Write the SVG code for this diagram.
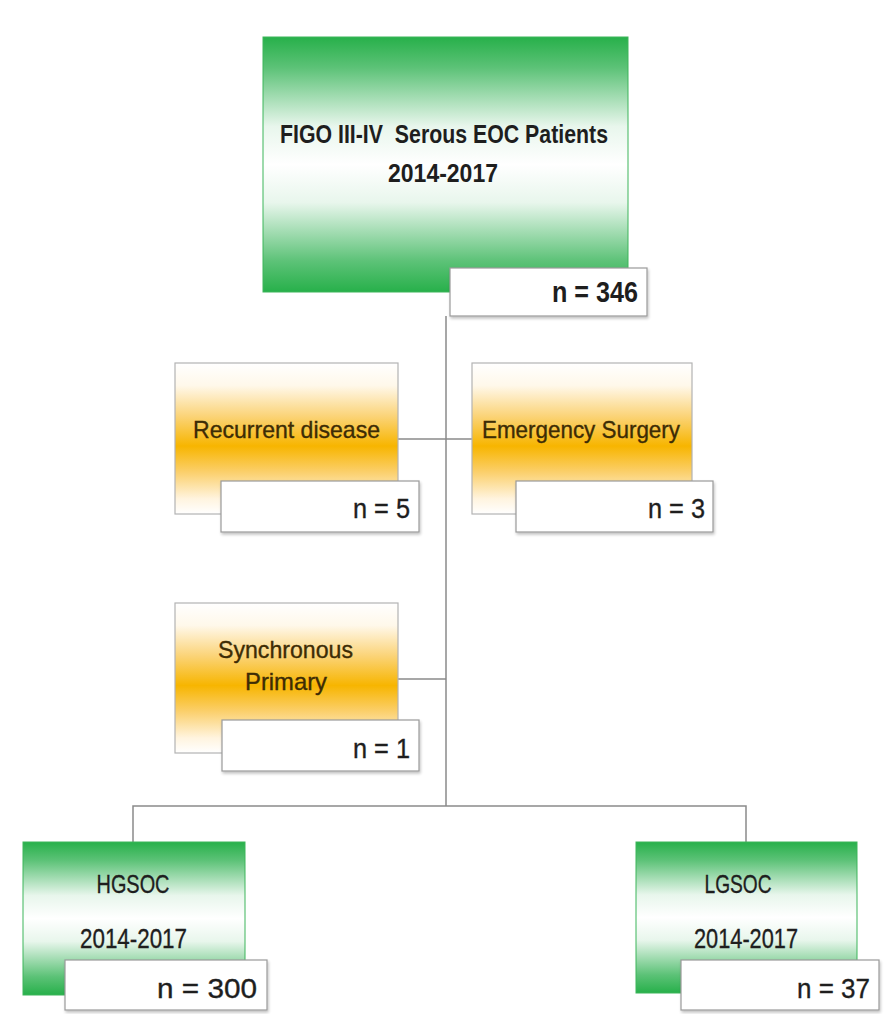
<svg xmlns="http://www.w3.org/2000/svg" width="884" height="1014" viewBox="0 0 884 1014">
<defs>
<linearGradient id="gGreen" x1="0" y1="0" x2="0" y2="1">
<stop offset="0" stop-color="#27b04a"/>
<stop offset="0.12" stop-color="#5cc277"/>
<stop offset="0.35" stop-color="#e8f6ec"/>
<stop offset="0.5" stop-color="#ffffff"/>
<stop offset="0.65" stop-color="#e8f6ec"/>
<stop offset="0.88" stop-color="#5cc277"/>
<stop offset="1" stop-color="#27b04a"/>
</linearGradient>
<linearGradient id="gOrange" x1="0" y1="0" x2="0" y2="1">
<stop offset="0" stop-color="#ffffff"/>
<stop offset="0.15" stop-color="#fff8ea"/>
<stop offset="0.35" stop-color="#fbd479"/>
<stop offset="0.55" stop-color="#f7b500"/>
<stop offset="0.72" stop-color="#fbcf6a"/>
<stop offset="0.9" stop-color="#fff4df"/>
<stop offset="1" stop-color="#ffffff"/>
</linearGradient>
<filter id="sh" x="-5%" y="-10%" width="115%" height="130%">
<feGaussianBlur in="SourceAlpha" stdDeviation="1.5"/>
<feOffset dx="1" dy="2" result="b"/>
<feComponentTransfer><feFuncA type="linear" slope="0.25"/></feComponentTransfer>
<feMerge><feMergeNode/><feMergeNode in="SourceGraphic"/></feMerge>
</filter>
</defs>
<style>
.green{fill:url(#gGreen);stroke:#3cb55a;stroke-width:1}
.orange{fill:url(#gOrange);stroke:#b3b3b3;stroke-width:1.2}
.nbox{fill:#ffffff;stroke:#9a9a9a;stroke-width:1.2}
.t{font-family:"Liberation Sans",Arial,sans-serif;fill:#1e1e1e;stroke:#1e1e1e;stroke-width:0.35}
.b{font-weight:bold;stroke-width:0}
.o{fill:#3d2c05;stroke:#3d2c05}
.conn{stroke:#8a8a8a;stroke-width:1.5;fill:none}
</style>
<rect width="884" height="1014" fill="#ffffff"/>
<g id="connectors">
<line class="conn" x1="446" y1="316" x2="446" y2="806"/>
<line class="conn" x1="398" y1="439" x2="472" y2="439"/>
<line class="conn" x1="398" y1="679" x2="446" y2="679"/>
<polyline class="conn" points="133,842 133,806 746,806 746,842"/>
</g>
<g id="top">
<rect class="green" x="263" y="37" width="365" height="255"/>
<text class="t b" x="280" y="143" font-size="26" textLength="328" lengthAdjust="spacingAndGlyphs" xml:space="preserve">FIGO III-IV  Serous EOC Patients</text>
<text class="t b" x="388" y="182" font-size="26" textLength="110" lengthAdjust="spacingAndGlyphs">2014-2017</text>
<rect class="nbox" x="450" y="268" width="197" height="48" filter="url(#sh)"/>
<text class="t b" x="552" y="302" font-size="30" textLength="86" lengthAdjust="spacingAndGlyphs">n = 346</text>
</g>
<g id="recurrent">
<rect class="orange" x="175" y="363" width="223" height="151"/>
<text class="t o" x="193" y="438" font-size="24" textLength="187" lengthAdjust="spacingAndGlyphs">Recurrent disease</text>
<rect class="nbox" x="221" y="481" width="198" height="51" filter="url(#sh)"/>
<text class="t" x="353" y="518" font-size="27" textLength="57" lengthAdjust="spacingAndGlyphs">n = 5</text>
</g>
<g id="emergency">
<rect class="orange" x="472" y="363" width="220" height="151"/>
<text class="t o" x="482" y="438" font-size="24" textLength="198" lengthAdjust="spacingAndGlyphs">Emergency Surgery</text>
<rect class="nbox" x="516" y="481" width="197" height="51" filter="url(#sh)"/>
<text class="t" x="648" y="518" font-size="27" textLength="57" lengthAdjust="spacingAndGlyphs">n = 3</text>
</g>
<g id="synchronous">
<rect class="orange" x="175" y="603" width="223" height="150"/>
<text class="t o" x="218" y="658" font-size="24" textLength="135" lengthAdjust="spacingAndGlyphs">Synchronous</text>
<text class="t o" x="245" y="690" font-size="24" textLength="82" lengthAdjust="spacingAndGlyphs">Primary</text>
<rect class="nbox" x="222" y="720" width="197" height="51" filter="url(#sh)"/>
<text class="t" x="353" y="758" font-size="27" textLength="57" lengthAdjust="spacingAndGlyphs">n = 1</text>
</g>
<g id="hgsoc">
<rect class="green" x="23" y="842" width="222" height="153"/>
<text class="t" x="133" y="893" font-size="26" text-anchor="middle" textLength="73" lengthAdjust="spacingAndGlyphs">HGSOC</text>
<text class="t" x="80" y="948" font-size="27" textLength="107" lengthAdjust="spacingAndGlyphs">2014-2017</text>
<rect class="nbox" x="65" y="960" width="202" height="50" filter="url(#sh)"/>
<text class="t" x="157" y="998" font-size="28" textLength="100" lengthAdjust="spacingAndGlyphs">n = 300</text>
</g>
<g id="lgsoc">
<rect class="green" x="636" y="842" width="221" height="151"/>
<text class="t" x="738" y="893" font-size="26" text-anchor="middle" textLength="67" lengthAdjust="spacingAndGlyphs">LGSOC</text>
<text class="t" x="694" y="948" font-size="27" textLength="104" lengthAdjust="spacingAndGlyphs">2014-2017</text>
<rect class="nbox" x="681" y="960" width="198" height="50" filter="url(#sh)"/>
<text class="t" x="797" y="998" font-size="28" textLength="73" lengthAdjust="spacingAndGlyphs">n = 37</text>
</g>
</svg>
